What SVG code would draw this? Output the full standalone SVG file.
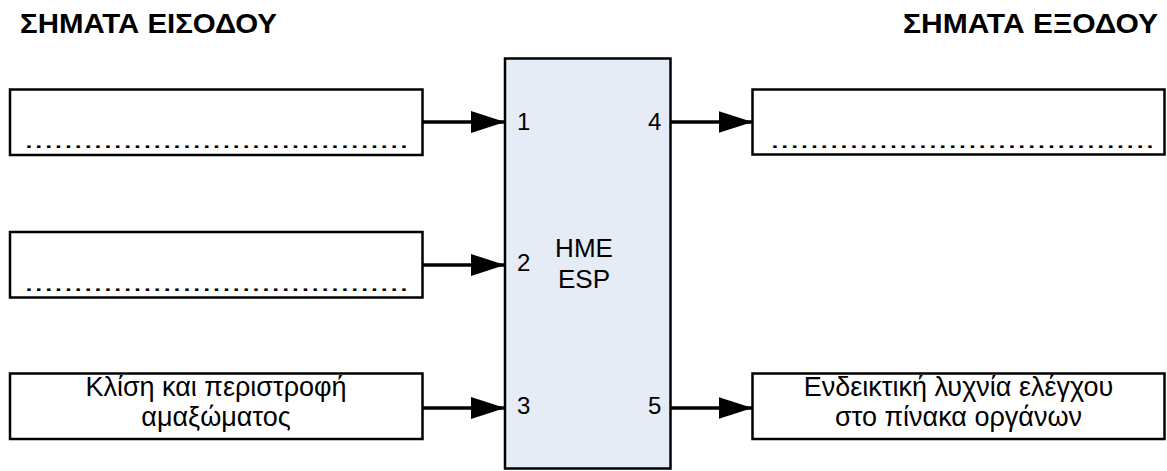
<svg xmlns="http://www.w3.org/2000/svg" width="1167" height="471" viewBox="0 0 1167 471">
<style>
.box{fill:#ffffff;stroke:#000000;stroke-width:2.5}
.esp{fill:#E6ECF6;stroke:#000000;stroke-width:2.5}
.title{font-family:"Liberation Sans",Arial,sans-serif;font-weight:bold;font-size:27px;fill:#000}
.lbl{font-family:"Liberation Sans",Arial,sans-serif;font-size:27px;fill:#000;text-anchor:middle}
.mid{font-family:"Liberation Sans",Arial,sans-serif;font-size:26px;fill:#000;text-anchor:middle}
.num{font-family:"Liberation Sans",Arial,sans-serif;font-size:24px;fill:#000}
.dots{font-family:"Liberation Sans",Arial,sans-serif;font-size:24px;fill:#000}
.conn{stroke:#000;stroke-width:3.5;fill:none;marker-end:url(#arr)}
</style>
<defs>
<marker id="arr" markerUnits="userSpaceOnUse" markerWidth="34" markerHeight="22" refX="34" refY="11" orient="auto">
<path d="M0,0 L34,11 L0,22 Z" fill="#000"/>
</marker>
</defs>
<text class="title" x="20" y="33" textLength="257" lengthAdjust="spacingAndGlyphs">ΣΗΜΑΤΑ ΕΙΣΟΔΟΥ</text>
<text class="title" x="903" y="33" textLength="255" lengthAdjust="spacingAndGlyphs">ΣΗΜΑΤΑ ΕΞΟΔΟΥ</text>
<g id="in1">
<rect class="box" x="10" y="89.5" width="412.5" height="65.5"/>
<text class="dots" x="24" y="148" textLength="385" lengthAdjust="spacingAndGlyphs">.......................................</text>
</g>
<g id="in2">
<rect class="box" x="10" y="232" width="412.5" height="65.5"/>
<text class="dots" x="24" y="290.5" textLength="385" lengthAdjust="spacingAndGlyphs">.......................................</text>
</g>
<g id="in3">
<rect class="box" x="10" y="373.5" width="412.5" height="65.5"/>
<text class="lbl" x="216" y="396">Κλίση και περιστροφή</text>
<text class="lbl" x="216" y="426">αμαξώματος</text>
</g>
<g id="esp">
<rect class="esp" x="505" y="58.5" width="165.5" height="410"/>
<text class="mid" x="584" y="257">HME</text>
<text class="mid" x="584" y="288">ESP</text>
<text class="num" x="517" y="130">1</text>
<text class="num" x="517" y="271">2</text>
<text class="num" x="517" y="414">3</text>
<text class="num" x="648" y="130">4</text>
<text class="num" x="648" y="414">5</text>
</g>
<g id="out4">
<rect class="box" x="752.5" y="89.5" width="412" height="65"/>
<text class="dots" x="770" y="148" textLength="385" lengthAdjust="spacingAndGlyphs">.......................................</text>
</g>
<g id="out5">
<rect class="box" x="752.5" y="373.5" width="412" height="65.5"/>
<text class="lbl" x="958.5" y="396">Ενδεικτική λυχνία ελέγχου</text>
<text class="lbl" x="958.5" y="426">στο πίνακα οργάνων</text>
</g>
<g id="connectors">
<line class="conn" x1="422.5" y1="122" x2="505" y2="122"/>
<line class="conn" x1="422.5" y1="265" x2="505" y2="265"/>
<line class="conn" x1="422.5" y1="408" x2="505" y2="408"/>
<line class="conn" x1="670.5" y1="122" x2="752.5" y2="122"/>
<line class="conn" x1="670.5" y1="408" x2="752.5" y2="408"/>
</g>
</svg>
